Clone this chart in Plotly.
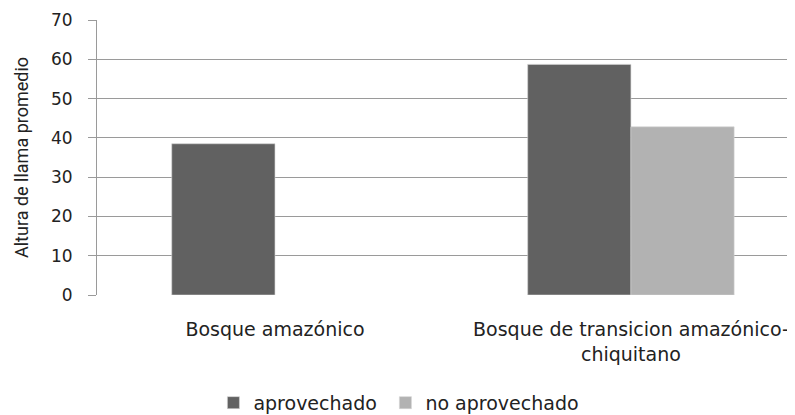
import plotly.graph_objects as go

categories = ["Bosque amazónico", "Bosque de transicion amazónico-<br>chiquitano"]
series_names = ["aprovechado", "no aprovechado"]
aprovechado = [38.5, 58.7]
no_aprovechado = [None, 42.8]
y_ticks = [0, 10, 20, 30, 40, 50, 60, 70]

colors = ["#616161", "#b2b2b2"]
legend_widths = [127, 170]

fig = go.Figure()
for name, vals, col, lw in zip(series_names, [aprovechado, no_aprovechado], colors, legend_widths):
    fig.add_trace(go.Bar(
        x=categories, y=vals, name=name, legendwidth=lw,
        marker=dict(color=col, line=dict(color="#d4d4d4", width=0.6)),
    ))

# the page body has an 8px margin, so the figure is shifted by 8px
fig.update_layout(
    width=787, height=407,
    margin=dict(l=89, r=0, t=12, b=120),
    paper_bgcolor="white", plot_bgcolor="white",
    barmode="group", bargap=0.42, bargroupgap=0,
    showlegend=True,
    legend=dict(orientation="h", xref="container", yref="container",
                x=0.261, xanchor="left", y=0.03, yanchor="middle",
                font=dict(family="DejaVu Sans", size=19, color="#222222"),
                itemclick=False, traceorder="normal"),
    font=dict(family="DejaVu Sans", color="#222222"),
)
fig.update_xaxes(
    range=[-0.5, 1.461], showgrid=False, showline=False, ticks="",
    tickfont=dict(family="DejaVu Sans", size=19, color="#222222"),
    ticklabelstandoff=21, automargin=False,
)
fig.update_yaxes(
    range=[0, 70], tickvals=y_ticks, showgrid=True, gridcolor="#9a9a9a", gridwidth=1,
    showline=True, linecolor="#9a9a9a", linewidth=1, ticks="outside", ticklen=8,
    tickcolor="#9a9a9a", tickfont=dict(family="DejaVu Sans", size=17, color="#222222"),
    ticklabelstandoff=12, zeroline=False, automargin=False,
    title=dict(text="Altura de llama promedio", standoff=17,
               font=dict(family="Liberation Sans Narrow, Roboto", size=18, color="#222222")),
)

fig.write_html("out.html")
